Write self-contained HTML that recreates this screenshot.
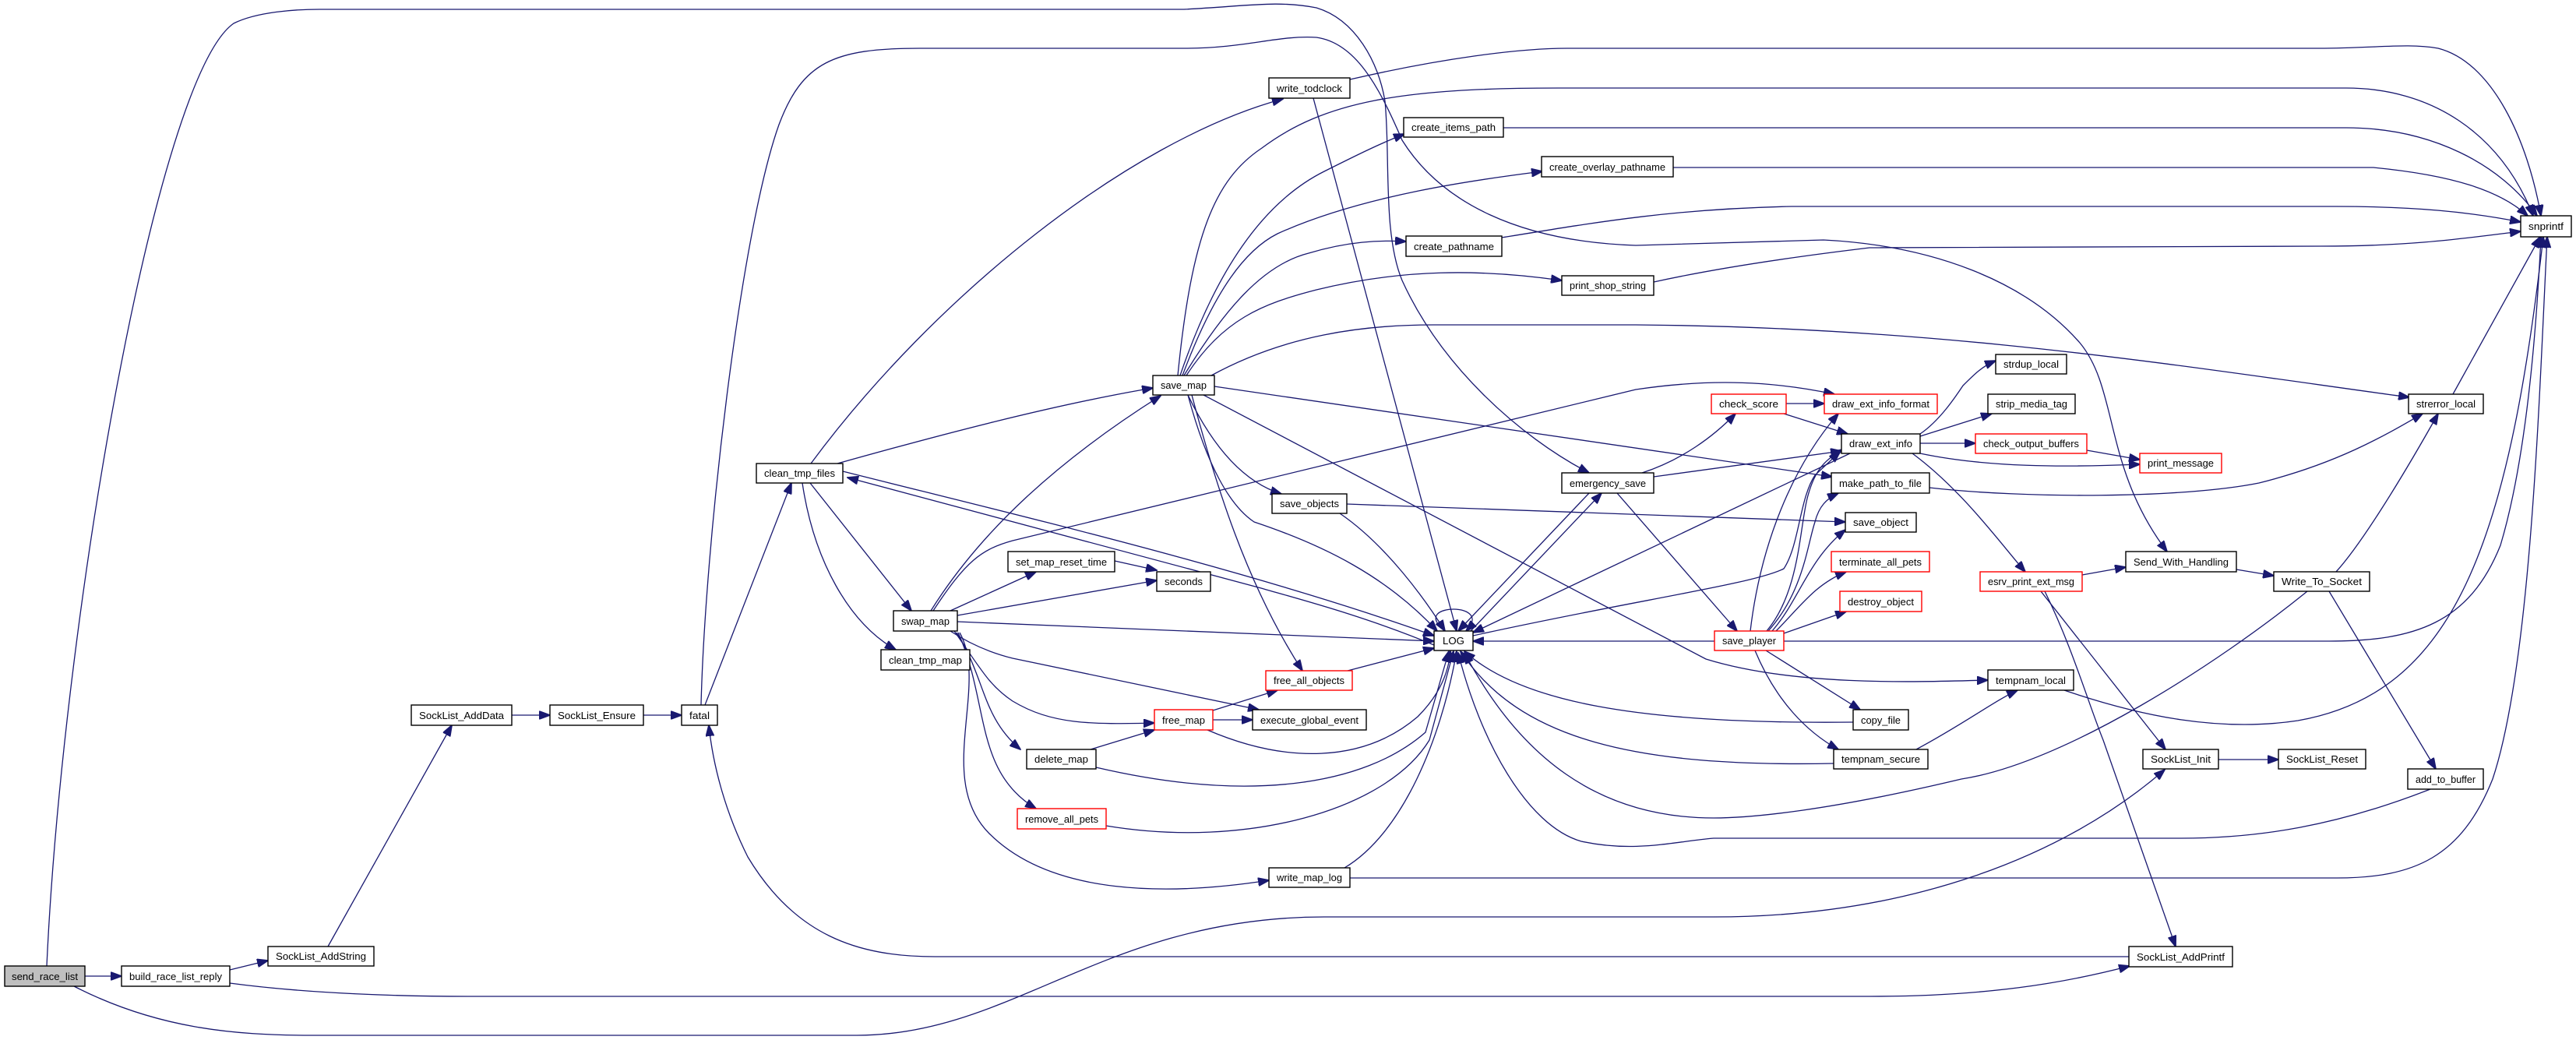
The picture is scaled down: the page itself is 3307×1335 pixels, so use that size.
<!DOCTYPE html>
<html><head><meta charset="utf-8"><style>
html,body{margin:0;padding:0;background:#fff;}
svg{display:block;}
text{font-family:"Liberation Sans",sans-serif;font-size:13px;fill:#000;}
.e{fill:none;stroke:#191970;stroke-width:1.3;marker-end:url(#a);}
.n{fill:#fff;stroke:#000;stroke-width:1.4;}
.r{fill:#fff;stroke:#ff0000;stroke-width:1.4;}
</style></head><body>
<svg width="3307" height="1335" viewBox="0 0 3307 1335" xmlns="http://www.w3.org/2000/svg">
<defs><marker id="a" markerWidth="15" markerHeight="11" refX="14" refY="5.5" orient="auto" markerUnits="userSpaceOnUse"><path d="M0,0 L15,5.5 L0,11 z" fill="#191970" stroke="#191970"/></marker></defs>
<g>
<path class="e" d="M109,1253 L156,1253"/>
<path class="e" d="M295,1245 L344,1233"/>
<path class="e" d="M295,1262 C400,1276 520,1279 600,1279 L2400,1279 C2550,1279 2650,1262 2734,1240"/>
<path class="e" d="M60,1240 C80,800 200,100 300,30 C330,15 380,12 410,12 L1520,12 C1600,8 1640,0 1690,10 C1740,25 1770,80 1778,130 C1785,200 1775,300 1800,360 C1850,470 1950,560 2040,607"/>
<path class="e" d="M95,1266 C200,1320 300,1329 400,1329 L1100,1329 C1300,1329 1420,1177 1700,1177 L2200,1177 C2450,1177 2650,1100 2779,988"/>
<path class="e" d="M421,1215 L580,931"/>
<path class="e" d="M657,918 L706,918"/>
<path class="e" d="M826,918 L875,918"/>
<path class="e" d="M905,905 L1016,620"/>
<path class="e" d="M900,905 C905,700 950,300 1000,160 C1030,80 1070,62 1180,62 L1520,62 C1600,62 1640,45 1690,48 C1740,55 1770,110 1800,180 C1850,260 1950,310 2100,315 L2341,308 C2480,315 2600,360 2670,440 C2720,500 2700,600 2782,708"/>
<path class="e" d="M1075,595 C1200,560 1350,520 1480,498"/>
<path class="e" d="M1040,620 L1170,784"/>
<path class="e" d="M1030,620 C1045,720 1090,800 1150,834"/>
<path class="e" d="M1041,595 C1200,380 1450,180 1647,127"/>
<path class="e" d="M1082,605 C1300,660 1600,730 1841,816"/>
<path class="e" d="M1841,828 C1750,790 1660,767 1619,755 L1088,613"/>
<path class="e" d="M1195,784 C1260,680 1360,590 1490,508"/>
<path class="e" d="M1198,784 C1240,720 1260,705 1300,694 L2100,500 C2200,485 2280,490 2355,506"/>
<path class="e" d="M1220,784 L1330,734"/>
<path class="e" d="M1229,790 L1485,745"/>
<path class="e" d="M1431,720 L1485,732"/>
<path class="e" d="M1229,798 L1841,823"/>
<path class="e" d="M1220,810 C1250,830 1280,840 1300,845 L1616,911"/>
<path class="e" d="M1225,810 C1260,860 1270,880 1300,900 C1350,930 1400,930 1482,928"/>
<path class="e" d="M1228,812 C1265,870 1260,920 1310,962"/>
<path class="e" d="M1230,812 C1270,900 1250,990 1330,1038"/>
<path class="e" d="M1232,812 C1270,880 1200,1000 1270,1070 C1350,1150 1500,1150 1629,1130"/>
<path class="e" d="M1557,912 L1640,886"/>
<path class="e" d="M1557,924 L1608,924"/>
<path class="e" d="M1550,937 C1650,980 1750,980 1820,920 C1850,890 1860,860 1862,836"/>
<path class="e" d="M1400,962 L1482,937"/>
<path class="e" d="M1407,985 C1600,1030 1750,1010 1830,940 L1860,836"/>
<path class="e" d="M1420,1060 C1600,1090 1780,1040 1835,950 L1866,836"/>
<path class="e" d="M1726,1114 C1800,1070 1850,950 1870,836"/>
<path class="e" d="M1733,1127 L3000,1127 C3100,1127 3160,1100 3200,1000 C3250,850 3260,500 3270,304"/>
<path class="e" d="M1730,861 L1841,832"/>
<path class="e" d="M1530,507 C1560,620 1600,750 1672,861"/>
<path class="e" d="M1525,507 C1550,600 1580,650 1610,670 C1700,700 1780,740 1845,810"/>
<path class="e" d="M1525,507 C1560,580 1600,620 1645,634"/>
<path class="e" d="M1545,507 L2190,846 C2300,880 2450,876 2552,873"/>
<path class="e" d="M1559,496 L2352,612"/>
<path class="e" d="M1555,482 C1650,430 1750,417 1840,417 L2100,417 C2500,420 2800,470 3093,510"/>
<path class="e" d="M1515,482 C1560,350 1620,260 1700,220 C1740,200 1770,185 1803,172"/>
<path class="e" d="M1512,482 C1530,300 1560,230 1620,190 C1700,130 1800,113 2000,113 L3012,113 C3120,113 3210,170 3252,277"/>
<path class="e" d="M1518,482 C1560,370 1600,320 1640,300 C1750,250 1900,230 1980,220"/>
<path class="e" d="M1520,482 C1570,400 1620,340 1680,325 C1730,310 1770,308 1805,310"/>
<path class="e" d="M1523,482 C1570,410 1620,390 1690,372 C1800,345 1900,345 2005,360"/>
<path class="e" d="M1930,164 L3012,164 C3120,164 3210,210 3257,277"/>
<path class="e" d="M2148,215 L3047,215 C3150,225 3210,245 3245,277"/>
<path class="e" d="M1928,305 C2050,285 2150,268 2300,265 L3000,265 C3100,265 3170,272 3236,285"/>
<path class="e" d="M2123,362 C2200,345 2300,330 2400,318 L2980,316 C3100,316 3170,305 3236,297"/>
<path class="e" d="M1733,102 C1850,75 1950,62 2012,62 L2977,62 C3050,62 3090,55 3130,62 C3200,80 3245,180 3262,277"/>
<path class="e" d="M1686,126 L1870,810"/>
<path class="e" d="M1720,659 C1780,700 1830,770 1855,810"/>
<path class="e" d="M1729,647 L2369,670"/>
<path class="e" d="M2108,607 C2160,590 2200,560 2228,531"/>
<path class="e" d="M2123,612 L2364,579"/>
<path class="e" d="M2076,633 L2230,810"/>
<path class="e" d="M2040,633 L1872,810"/>
<path class="e" d="M1888,810 L2056,633"/>
<path class="e" d="M2293,518 L2342,518"/>
<path class="e" d="M2290,531 L2372,557"/>
<path class="e" d="M2201,823 L1891,823"/>
<path class="e" d="M2375,582 L1891,812"/>
<path class="e" d="M1891,816 C2100,770 2250,750 2290,730 C2310,700 2310,640 2330,610 L2362,580"/>
<path class="e" d="M2247,810 C2260,700 2300,600 2360,531"/>
<path class="e" d="M2268,810 C2310,760 2310,680 2320,640 C2330,600 2345,590 2365,577"/>
<path class="e" d="M2270,810 C2315,760 2320,700 2330,670 C2335,650 2345,640 2360,633"/>
<path class="e" d="M2275,810 C2310,770 2320,720 2369,680"/>
<path class="e" d="M2280,810 C2310,780 2330,750 2370,734"/>
<path class="e" d="M2290,813 L2370,785"/>
<path class="e" d="M2290,823 L2990,823 C3100,823 3170,800 3210,700 C3240,600 3255,450 3262,304"/>
<path class="e" d="M2267,835 L2388,911"/>
<path class="e" d="M2253,835 C2280,900 2320,940 2360,962"/>
<path class="e" d="M2379,927 C2100,930 1950,900 1880,836"/>
<path class="e" d="M2354,980 C2100,985 1950,950 1875,836"/>
<path class="e" d="M2460,962 C2520,930 2560,900 2590,886"/>
<path class="e" d="M2650,886 C2750,920 2850,940 2950,925 C3150,890 3220,700 3265,304"/>
<path class="e" d="M2465,557 C2490,540 2510,510 2520,495 C2535,480 2545,470 2562,463"/>
<path class="e" d="M2465,560 L2557,531"/>
<path class="e" d="M2465,569 L2536,569"/>
<path class="e" d="M2465,582 C2550,600 2650,600 2747,596"/>
<path class="e" d="M2455,582 C2520,630 2570,700 2600,734"/>
<path class="e" d="M2679,578 L2747,590"/>
<path class="e" d="M2477,626 C2600,640 2800,640 2900,620 C3000,595 3060,560 3110,531"/>
<path class="e" d="M3149,506 L3261,304"/>
<path class="e" d="M2999,734 C3030,700 3080,620 3130,531"/>
<path class="e" d="M2673,738 L2729,728"/>
<path class="e" d="M2871,731 L2919,739"/>
<path class="e" d="M2962,759 C2850,850 2650,980 2518,1000 C2350,1040 2250,1050 2200,1050 C2050,1050 1950,970 1880,838"/>
<path class="e" d="M3120,1013 C3000,1060 2900,1076 2800,1076 L2200,1076 C2150,1080 2100,1095 2030,1080 C1960,1060 1900,950 1872,838"/>
<path class="e" d="M2990,759 L3127,987"/>
<path class="e" d="M2620,759 L2780,962"/>
<path class="e" d="M2625,759 C2660,830 2680,900 2700,950 L2793,1215"/>
<path class="e" d="M2848,975 L2925,975"/>
<path class="e" d="M2733,1228 L1200,1228 C1100,1228 1020,1200 960,1100 C930,1040 915,980 910,931"/>
<path class="e" d="M1855,810 C1830,790 1850,782 1866,782 C1885,782 1900,792 1882,810"/>
</g>
<g>
<rect x="6" y="1240" width="103" height="26" fill="#bfbfbf" stroke="#000" stroke-width="1.4"/><text x="57.5" y="1258" text-anchor="middle" textLength="85" lengthAdjust="spacingAndGlyphs">send_race_list</text>
<rect class="n" x="156" y="1240" width="139" height="26"/><text x="225.5" y="1258" text-anchor="middle" textLength="119" lengthAdjust="spacingAndGlyphs">build_race_list_reply</text>
<rect class="n" x="344" y="1215" width="136" height="25"/><text x="412" y="1232" text-anchor="middle" textLength="116" lengthAdjust="spacingAndGlyphs">SockList_AddString</text>
<rect class="n" x="528" y="905" width="129" height="26"/><text x="592.5" y="923" text-anchor="middle" textLength="109" lengthAdjust="spacingAndGlyphs">SockList_AddData</text>
<rect class="n" x="706" y="905" width="120" height="26"/><text x="766" y="923" text-anchor="middle" textLength="100" lengthAdjust="spacingAndGlyphs">SockList_Ensure</text>
<rect class="n" x="875" y="905" width="46" height="26"/><text x="898" y="923" text-anchor="middle" textLength="26" lengthAdjust="spacingAndGlyphs">fatal</text>
<rect class="n" x="971" y="595" width="111" height="25"/><text x="1026.5" y="612" text-anchor="middle" textLength="91" lengthAdjust="spacingAndGlyphs">clean_tmp_files</text>
<rect class="n" x="1147" y="784" width="82" height="26"/><text x="1188" y="802" text-anchor="middle" textLength="62" lengthAdjust="spacingAndGlyphs">swap_map</text>
<rect class="n" x="1131" y="834" width="114" height="26"/><text x="1188" y="852" text-anchor="middle" textLength="94" lengthAdjust="spacingAndGlyphs">clean_tmp_map</text>
<rect class="n" x="1294" y="708" width="137" height="26"/><text x="1362.5" y="726" text-anchor="middle" textLength="117" lengthAdjust="spacingAndGlyphs">set_map_reset_time</text>
<rect class="n" x="1485" y="734" width="69" height="25"/><text x="1519.5" y="751" text-anchor="middle" textLength="49" lengthAdjust="spacingAndGlyphs">seconds</text>
<rect class="n" x="1480" y="482" width="79" height="25"/><text x="1519.5" y="499" text-anchor="middle" textLength="59" lengthAdjust="spacingAndGlyphs">save_map</text>
<rect class="n" x="1629" y="100" width="104" height="26"/><text x="1681" y="118" text-anchor="middle" textLength="84" lengthAdjust="spacingAndGlyphs">write_todclock</text>
<rect class="n" x="1633" y="634" width="96" height="25"/><text x="1681" y="651" text-anchor="middle" textLength="76" lengthAdjust="spacingAndGlyphs">save_objects</text>
<rect class="r" x="1625" y="861" width="111" height="25"/><text x="1680.5" y="878" text-anchor="middle" textLength="91" lengthAdjust="spacingAndGlyphs">free_all_objects</text>
<rect class="r" x="1482" y="911" width="75" height="26"/><text x="1519.5" y="929" text-anchor="middle" textLength="55" lengthAdjust="spacingAndGlyphs">free_map</text>
<rect class="n" x="1608" y="911" width="146" height="26"/><text x="1681" y="929" text-anchor="middle" textLength="126" lengthAdjust="spacingAndGlyphs">execute_global_event</text>
<rect class="n" x="1318" y="962" width="89" height="25"/><text x="1362.5" y="979" text-anchor="middle" textLength="69" lengthAdjust="spacingAndGlyphs">delete_map</text>
<rect class="r" x="1306" y="1038" width="114" height="26"/><text x="1363" y="1056" text-anchor="middle" textLength="94" lengthAdjust="spacingAndGlyphs">remove_all_pets</text>
<rect class="n" x="1629" y="1114" width="104" height="25"/><text x="1681" y="1131" text-anchor="middle" textLength="84" lengthAdjust="spacingAndGlyphs">write_map_log</text>
<rect class="n" x="1841" y="810" width="50" height="25"/><text x="1866" y="827" text-anchor="middle" textLength="28" lengthAdjust="spacingAndGlyphs">LOG</text>
<rect class="n" x="1802" y="151" width="128" height="25"/><text x="1866" y="168" text-anchor="middle" textLength="108" lengthAdjust="spacingAndGlyphs">create_items_path</text>
<rect class="n" x="1979" y="201" width="169" height="26"/><text x="2063.5" y="219" text-anchor="middle" textLength="149" lengthAdjust="spacingAndGlyphs">create_overlay_pathname</text>
<rect class="n" x="1805" y="303" width="123" height="26"/><text x="1866.5" y="321" text-anchor="middle" textLength="103" lengthAdjust="spacingAndGlyphs">create_pathname</text>
<rect class="n" x="2005" y="354" width="118" height="25"/><text x="2064" y="371" text-anchor="middle" textLength="98" lengthAdjust="spacingAndGlyphs">print_shop_string</text>
<rect class="n" x="2005" y="607" width="118" height="26"/><text x="2064" y="625" text-anchor="middle" textLength="98" lengthAdjust="spacingAndGlyphs">emergency_save</text>
<rect class="r" x="2197" y="506" width="96" height="25"/><text x="2245" y="523" text-anchor="middle" textLength="76" lengthAdjust="spacingAndGlyphs">check_score</text>
<rect class="r" x="2342" y="506" width="145" height="25"/><text x="2414.5" y="523" text-anchor="middle" textLength="125" lengthAdjust="spacingAndGlyphs">draw_ext_info_format</text>
<rect class="n" x="2364" y="557" width="101" height="25"/><text x="2414.5" y="574" text-anchor="middle" textLength="81" lengthAdjust="spacingAndGlyphs">draw_ext_info</text>
<rect class="n" x="2351" y="607" width="126" height="26"/><text x="2414" y="625" text-anchor="middle" textLength="106" lengthAdjust="spacingAndGlyphs">make_path_to_file</text>
<rect class="n" x="2369" y="658" width="91" height="25"/><text x="2414.5" y="675" text-anchor="middle" textLength="71" lengthAdjust="spacingAndGlyphs">save_object</text>
<rect class="r" x="2351" y="708" width="126" height="26"/><text x="2414" y="726" text-anchor="middle" textLength="106" lengthAdjust="spacingAndGlyphs">terminate_all_pets</text>
<rect class="r" x="2362" y="759" width="105" height="26"/><text x="2414.5" y="777" text-anchor="middle" textLength="85" lengthAdjust="spacingAndGlyphs">destroy_object</text>
<rect class="r" x="2201" y="810" width="89" height="25"/><text x="2245.5" y="827" text-anchor="middle" textLength="69" lengthAdjust="spacingAndGlyphs">save_player</text>
<rect class="n" x="2379" y="911" width="71" height="26"/><text x="2414.5" y="929" text-anchor="middle" textLength="51" lengthAdjust="spacingAndGlyphs">copy_file</text>
<rect class="n" x="2354" y="962" width="121" height="25"/><text x="2414.5" y="979" text-anchor="middle" textLength="101" lengthAdjust="spacingAndGlyphs">tempnam_secure</text>
<rect class="n" x="2552" y="860" width="110" height="26"/><text x="2607" y="878" text-anchor="middle" textLength="90" lengthAdjust="spacingAndGlyphs">tempnam_local</text>
<rect class="n" x="2562" y="455" width="91" height="25"/><text x="2607.5" y="472" text-anchor="middle" textLength="71" lengthAdjust="spacingAndGlyphs">strdup_local</text>
<rect class="n" x="2552" y="506" width="112" height="25"/><text x="2608" y="523" text-anchor="middle" textLength="92" lengthAdjust="spacingAndGlyphs">strip_media_tag</text>
<rect class="r" x="2536" y="557" width="143" height="25"/><text x="2607.5" y="574" text-anchor="middle" textLength="123" lengthAdjust="spacingAndGlyphs">check_output_buffers</text>
<rect class="r" x="2747" y="582" width="105" height="25"/><text x="2799.5" y="599" text-anchor="middle" textLength="85" lengthAdjust="spacingAndGlyphs">print_message</text>
<rect class="r" x="2542" y="734" width="131" height="25"/><text x="2607.5" y="751" text-anchor="middle" textLength="111" lengthAdjust="spacingAndGlyphs">esrv_print_ext_msg</text>
<rect class="n" x="2729" y="708" width="142" height="26"/><text x="2800" y="726" text-anchor="middle" textLength="122" lengthAdjust="spacingAndGlyphs">Send_With_Handling</text>
<rect class="n" x="2919" y="734" width="123" height="25"/><text x="2980.5" y="751" text-anchor="middle" textLength="103" lengthAdjust="spacingAndGlyphs">Write_To_Socket</text>
<rect class="n" x="2751" y="962" width="97" height="25"/><text x="2799.5" y="979" text-anchor="middle" textLength="77" lengthAdjust="spacingAndGlyphs">SockList_Init</text>
<rect class="n" x="2925" y="962" width="112" height="25"/><text x="2981" y="979" text-anchor="middle" textLength="92" lengthAdjust="spacingAndGlyphs">SockList_Reset</text>
<rect class="n" x="3091" y="987" width="97" height="26"/><text x="3139.5" y="1005" text-anchor="middle" textLength="77" lengthAdjust="spacingAndGlyphs">add_to_buffer</text>
<rect class="n" x="2733" y="1215" width="133" height="26"/><text x="2799.5" y="1233" text-anchor="middle" textLength="113" lengthAdjust="spacingAndGlyphs">SockList_AddPrintf</text>
<rect class="n" x="3092" y="506" width="96" height="25"/><text x="3140" y="523" text-anchor="middle" textLength="76" lengthAdjust="spacingAndGlyphs">strerror_local</text>
<rect class="n" x="3236" y="277" width="65" height="27"/><text x="3268.5" y="295" text-anchor="middle" textLength="45" lengthAdjust="spacingAndGlyphs">snprintf</text>
</g>
</svg>
</body></html>
